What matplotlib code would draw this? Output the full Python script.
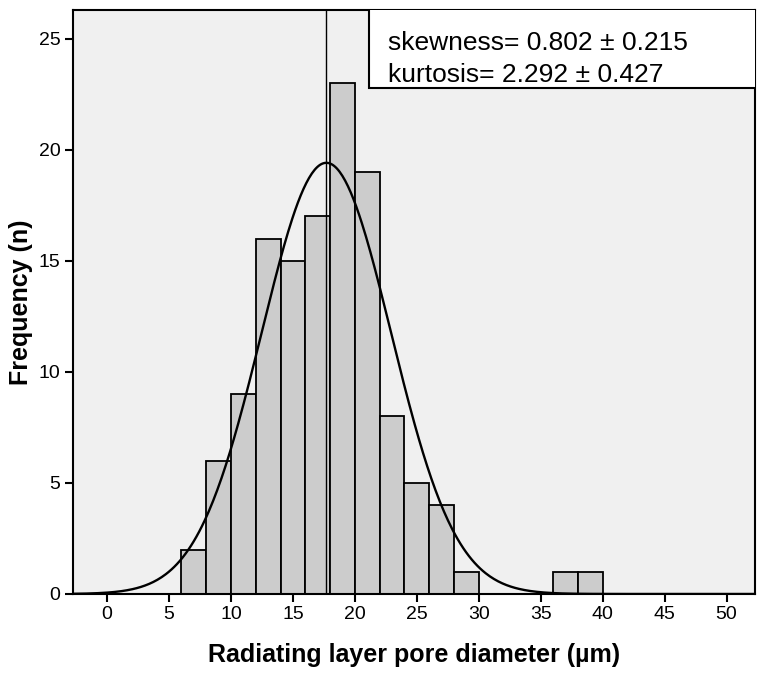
import numpy as np
import matplotlib.pyplot as plt
from matplotlib.patches import Rectangle

plt.rcParams['font.family'] = ['Liberation Sans', 'DejaVu Sans']

# histogram bins (left edges, width 2) and counts
bin_left = [6, 8, 10, 12, 14, 16, 18, 20, 22, 24, 26, 28, 36, 38]
counts = [2, 6, 9, 16, 15, 17, 23, 19, 8, 5, 4, 1, 1, 1]
bin_width = 2

mean_val = 17.7
sd_val = 5.22
n_total = sum(counts)

stats_lines = ['skewness= 0.802 ± 0.215', 'kurtosis= 2.292 ± 0.427']

fig = plt.figure(figsize=(7.57, 6.73), dpi=100)
ax = fig.add_axes([0.0964, 0.1174, 0.9010, 0.8680])
ax.set_facecolor('#f0f0f0')

ax.bar(bin_left, counts, width=bin_width, align='edge', color='#cccccc',
       edgecolor='black', linewidth=1.3, zorder=2)

xs = np.linspace(-3, 53, 500)
ys = n_total * bin_width / (sd_val * np.sqrt(2 * np.pi)) * np.exp(-0.5 * ((xs - mean_val) / sd_val) ** 2)
ax.plot(xs, ys, color='black', linewidth=1.7, zorder=3)
ax.axvline(mean_val, color='black', linewidth=1.0, zorder=3)

ax.set_xlim(-2.75, 52.3)
ax.set_ylim(0, 26.3)
ax.set_xticks(range(0, 51, 5))
ax.set_yticks(range(0, 26, 5))
ax.tick_params(axis='both', direction='out', length=6, width=1.5, labelsize=14, pad=3)
for s in ax.spines.values():
    s.set_linewidth(1.5)

ax.set_xlabel('Radiating layer pore diameter (µm)', fontsize=18, fontweight='bold', labelpad=14)
ax.set_ylabel('Frequency (n)', fontsize=18, fontweight='bold', labelpad=4)

# stats box in the upper right corner
box = Rectangle((0.434, 0.8666), 0.6, 0.2, transform=ax.transAxes, facecolor='white',
                edgecolor='black', linewidth=1.5, zorder=5)
ax.add_patch(box)
ax.text(0.462, 0.943, stats_lines[0], transform=ax.transAxes, fontsize=19,
        va='center', ha='left', zorder=6)
ax.text(0.462, 0.888, stats_lines[1], transform=ax.transAxes, fontsize=19,
        va='center', ha='left', zorder=6)

fig.savefig('out.png', dpi=100)
